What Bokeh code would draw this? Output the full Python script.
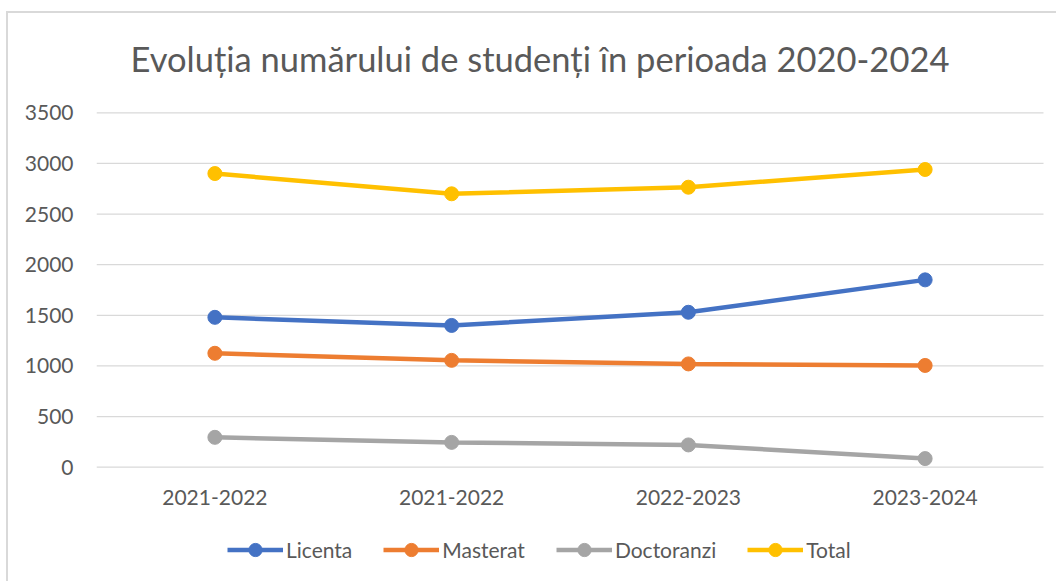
from bokeh.plotting import figure
from bokeh.models import Range1d, FixedTicker, Legend, LegendItem, Label
from bokeh.embed import file_html
from bokeh.resources import INLINE

# ---- data ----
periods = ["2021-2022", "2021-2022", "2022-2023", "2023-2024"]
licenta = [1480, 1400, 1530, 1850]
masterat = [1125, 1055, 1020, 1005]
doctoranzi = [295, 245, 220, 85]
total = [2900, 2700, 2765, 2940]
series_names = ["Licenta", "Masterat", "Doctoranzi", "Total"]
series_colors = ["#4472C4", "#ED7D31", "#A5A5A5", "#FFC000"]
y_ticks = [0, 500, 1000, 1500, 2000, 2500, 3000, 3500]
chart_title = "Evoluția numărului de studenți în perioada 2020-2024"

FONT = "Lato"
TXT = "#595959"

# ---- layout constants (pixels) ----
W, H = 1050, 570            # figure size (page offset 8, 13)
LEFT = 88                   # frame left inside the figure
CAT_PX = 236.75             # width of one category
Y0_PX = 466.7 - 13          # page row of value 0, relative to figure top
PX_PER_UNIT = 0.10126

n = len(periods)
xs = list(range(1, n + 1))
x_end = 0.5 + (W - LEFT) / CAT_PX
y_top = Y0_PX / PX_PER_UNIT
y_bot = -(H - Y0_PX) / PX_PER_UNIT

p = figure(width=W, height=H, output_backend="svg", toolbar_location=None,
           x_range=Range1d(0.5, x_end), y_range=Range1d(y_bot, y_top),
           x_axis_location=None,
           min_border_left=LEFT, min_border_right=0, min_border_top=0, min_border_bottom=0)
p.margin = (13, 0, 0, 8)
p.styles = {"box-shadow": "-2px -2px 0 0 #D9D9D9"}
p.outline_line_color = None
p.background_fill_color = "white"
p.border_fill_color = "white"
p.xgrid.grid_line_color = None
p.ygrid.grid_line_color = None

# y axis
p.yaxis.ticker = FixedTicker(ticks=y_ticks)
p.yaxis.axis_line_color = None
p.yaxis.major_tick_line_color = None
p.yaxis.minor_tick_line_color = None
p.yaxis.major_tick_out = 0
p.yaxis.major_tick_in = 0
p.yaxis.major_label_text_font = FONT
p.yaxis.major_label_text_font_size = "21px"
p.yaxis.major_label_text_color = TXT
p.yaxis.major_label_standoff = 23

# horizontal gridlines over the category span
p.segment(x0=[0.5] * len(y_ticks), x1=[n + 0.5] * len(y_ticks), y0=y_ticks, y1=y_ticks,
          line_color="#D9D9D9", line_width=1.3)

# category labels under the value 0 line
lab_y = -(497 - 466.7) / PX_PER_UNIT
p.text(x=xs, y=[lab_y] * n, text=periods, text_align="center", text_baseline="middle",
       text_font={"value": FONT}, text_font_size={"value": "21px"}, text_color=TXT)

items = []
for name, vals, col in zip(series_names, [licenta, masterat, doctoranzi, total], series_colors):
    r1 = p.line(xs, vals, line_color=col, line_width=4.5)
    r2 = p.scatter(xs, vals, size=14, fill_color=col, line_color=col)
    items.append(LegendItem(label=name, renderers=[r1, r2]))

legend = Legend(items=items, orientation="horizontal", location=(131, 17),
                label_text_font=FONT, label_text_font_size="21px", label_text_color=TXT,
                glyph_width=56, glyph_height=33, label_height=33, label_standoff=3,
                spacing=31, padding=0, margin=0, border_line_color=None,
                background_fill_alpha=0)
p.add_layout(legend, "center")

title_x = 0.5 + (539.5 - 96) / CAT_PX
title_y = (466.7 - 58) / PX_PER_UNIT
p.add_layout(Label(x=title_x, y=title_y, text=chart_title,
                   text_font=FONT, text_font_size="34.5px", text_color=TXT,
                   text_align="center", text_baseline="middle"))

open("out.html", "w").write(file_html(p, INLINE))
